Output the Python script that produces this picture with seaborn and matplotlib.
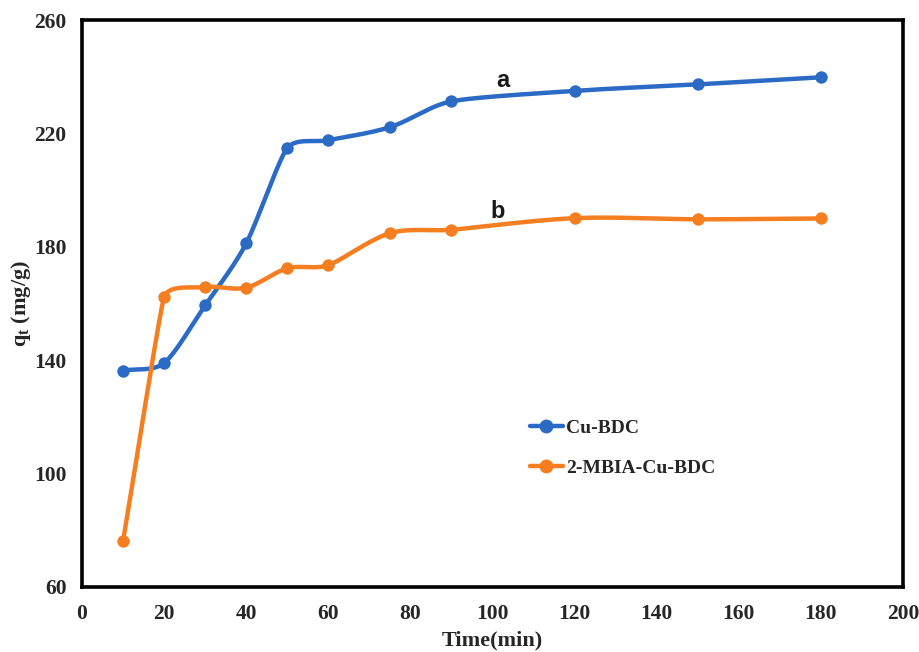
import numpy as np
import pandas as pd
import matplotlib
matplotlib.use("Agg")
import matplotlib.pyplot as plt
import seaborn as sns
from matplotlib.lines import Line2D

time_min = [10, 20, 30, 40, 50, 60, 75, 90, 120, 150, 180]
cu_bdc = [136.3, 139.0, 159.3, 181.2, 214.8, 217.6, 222.2, 231.3, 235.0, 237.3, 239.8]
mbia_cu_bdc = [76.2, 162.2, 165.8, 165.6, 172.4, 173.5, 184.8, 186.0, 190.1, 189.7, 190.0]
series_names = ["Cu-BDC", "2-MBIA-Cu-BDC"]
curve_labels = ["a", "b"]
x_ticks = [0, 20, 40, 60, 80, 100, 120, 140, 160, 180, 200]
y_ticks = [60, 100, 140, 180, 220, 260]
colors = ["#2B6BC5", "#F57F20"]

# approximate pixel scale of the plotting area (px per data unit)
SX, SY = 4.105, 2.835


def excel_smooth(xs, ys, n=50):
    P = np.column_stack([np.asarray(xs, float) * SX, np.asarray(ys, float) * SY])
    m = len(P)
    seglen = [np.linalg.norm(P[i + 1] - P[i]) for i in range(m - 1)]
    tang, arm = [], []
    for i in range(m):
        a = P[i - 1] if i > 0 else P[i]
        b = P[i + 1] if i < m - 1 else P[i]
        d = b - a
        tang.append(d / (np.linalg.norm(d) + 1e-12))
        near = [seglen[j] for j in (i - 1, i) if 0 <= j < m - 1]
        arm.append(min(near) / 3.0)
    out = []
    t = np.linspace(0, 1, n)[:, None]
    for i in range(m - 1):
        p0, p3 = P[i], P[i + 1]
        p1 = p0 + tang[i] * arm[i]
        p2 = p3 - tang[i + 1] * arm[i + 1]
        seg = (1 - t) ** 3 * p0 + 3 * (1 - t) ** 2 * t * p1 + 3 * (1 - t) * t ** 2 * p2 + t ** 3 * p3
        out.append(seg)
    out = np.vstack(out)
    return out[:, 0] / SX, out[:, 1] / SY


sns.set_theme(style="white")
plt.rcParams["font.family"] = ["Liberation Serif", "DejaVu Serif"]
plt.rcParams["mathtext.fontset"] = "custom"
plt.rcParams["mathtext.rm"] = "Liberation Serif"
plt.rcParams["mathtext.bf"] = "Liberation Serif:bold"

fig = plt.figure(figsize=(9.19, 6.52), dpi=100)
ax = fig.add_axes([0.0892, 0.0997, 0.8934, 0.8696])

handles = []
for name, ys, col in zip(series_names, [cu_bdc, mbia_cu_bdc], colors):
    sx, sy = excel_smooth(time_min, ys)
    dfc = pd.DataFrame({"x": sx, "y": sy})
    sns.lineplot(data=dfc, x="x", y="y", sort=False, estimator=None, ax=ax,
                 color=col, linewidth=3.2, legend=False)
    dfp = pd.DataFrame({"x": time_min, "y": ys})
    sns.scatterplot(data=dfp, x="x", y="y", ax=ax, color=col, s=80,
                    edgecolor=col, linewidth=0, zorder=3, legend=False)
    handles.append(Line2D([0], [0], color=col, linewidth=3.2, marker="o",
                          markersize=9, label=name))

ax.set_xlim(0, 200)
ax.set_ylim(60, 260)
ax.set_xticks(x_ticks)
ax.set_yticks(y_ticks)
ax.tick_params(axis="both", length=0, labelsize=15.5)
ax.tick_params(axis="y", pad=11)
ax.tick_params(axis="x", pad=12)
for lab in ax.get_xticklabels() + ax.get_yticklabels():
    lab.set_fontweight("bold")
for sp in ax.spines.values():
    sp.set_color("black")
    sp.set_linewidth(2.6)
    sp.set_visible(True)

ax.set_xlabel("Time(min)", fontsize=16, fontweight="bold", labelpad=5)
ax.set_ylabel(r"q$_\mathbf{t}$ (mg/g)", fontsize=16, fontweight="bold", labelpad=1)

ax.text(102.5, 238.5, curve_labels[0], fontsize=17, fontweight="bold",
        family=["Liberation Sans", "DejaVu Sans"], ha="center", va="center", color="#1a1a1a")
ax.text(101.3, 192.5, curve_labels[1], fontsize=17, fontweight="bold",
        family=["Liberation Sans", "DejaVu Sans"], ha="center", va="center", color="#1a1a1a")

leg = ax.legend(handles=handles, loc="upper left", bbox_to_anchor=(0.524, 0.327),
                frameon=False, prop={"weight": "bold", "size": 14},
                handlelength=1.7, handletextpad=0.15, labelspacing=1.15)

fig.savefig("out.png", dpi=100)
